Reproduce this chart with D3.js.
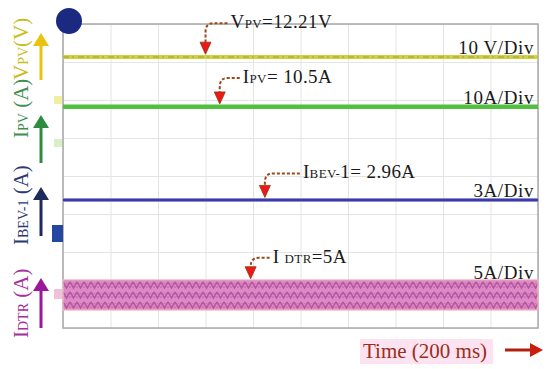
<!DOCTYPE html>
<head>
  <meta charset="utf-8">
  <title>Scope traces</title>
  <script src="https://d3js.org/d3.v7.min.js"></script>
</head>
<body style="margin:0;background:#fff">
  <script>
    // levels in scope divisions (0 = bottom of screen, 8 = top)
    var channels = ['VPV', 'IPV', 'IBEV-1', 'IDTR'];
    var levelDiv = [7.13, 5.82, 3.37, 0.87];
    var rippleDiv = [0.05, 0.05, 0.04, 0.4];
    var readings = ['12.21V', '10.5A', '2.96A', '5A'];
    var scaleLabels = ['10 V/Div', '10A/Div', '3A/Div', '5A/Div'];
    var markTime = [3.0, 3.3, 4.25, 3.95];
    var timeSpan = [0, 10];
    var gridX = [0, 1, 2, 3, 4, 5, 6, 7, 8, 9, 10];
    var gridY = [0, 1, 2, 3, 4, 5, 6, 7, 8];

    var width = 550, height = 369;
    var serif = "'Liberation Serif', 'DejaVu Serif', serif";

    var svg = d3.select('body').append('svg').attr('width', width).attr('height', height);

    var x = d3.scaleLinear().domain([0, 10]).range([63, 538]);
    var y = d3.scaleLinear().domain([0, 8]).range([328, 24]);

    var defs = svg.append('defs');
    var pat = defs.append('pattern').attr('id', 'ripple').attr('patternUnits', 'userSpaceOnUse')
      .attr('width', 7).attr('height', 10);
    pat.append('rect').attr('width', 7).attr('height', 10).attr('fill', '#df8ac6');
    pat.append('path').attr('d', 'M0,2 L3.5,8 L7,2').attr('fill', 'none')
      .attr('stroke', '#b0589c').attr('stroke-width', 1.6);
    pat.append('path').attr('d', 'M0,8 L3.5,3 L7,8').attr('fill', 'none')
      .attr('stroke', '#cc6cb4').attr('stroke-width', 1);

    // grid
    svg.append('g')
      .attr('transform', 'translate(0,' + y(0) + ')')
      .call(d3.axisBottom(x).tickValues(gridX).tickSize(-(y(0) - y(8))).tickFormat(''))
      .call(function(g) {
        g.select('.domain').remove();
        g.selectAll('line').attr('stroke', '#e4e4e4');
      });
    svg.append('g')
      .attr('transform', 'translate(' + x(0) + ',0)')
      .call(d3.axisLeft(y).tickValues(gridY).tickSize(-(x(10) - x(0))).tickFormat(''))
      .call(function(g) {
        g.select('.domain').remove();
        g.selectAll('line').attr('stroke', '#e4e4e4');
      });
    // frame
    svg.append('rect').attr('x', x(0)).attr('y', y(8))
      .attr('width', x(10) - x(0)).attr('height', y(0) - y(8))
      .attr('fill', 'none').attr('stroke', '#a8a8a8').attr('stroke-width', 1.5);

    var line = d3.line().x(function(d) { return x(d[0]); }).y(function(d) { return y(d[1]); });
    var area = d3.area().x(function(d) { return x(d[0]); })
      .y0(function(d) { return y(d[1] - d[2]); }).y1(function(d) { return y(d[1] + d[2]); });

    function pts(i) {
      return timeSpan.map(function(t) { return [t, levelDiv[i], rippleDiv[i]]; });
    }

    // VPV
    svg.append('path').attr('d', line(pts(0))).attr('stroke', '#d0d048').attr('stroke-width', 4).attr('fill', 'none');
    svg.append('path').attr('d', line(pts(0))).attr('stroke', '#a5a020').attr('stroke-width', 1)
      .attr('stroke-dasharray', '6,3,2,4').attr('fill', 'none');
    // IPV
    svg.append('path').attr('d', line(pts(1))).attr('stroke', '#52bf40').attr('stroke-width', 4.5).attr('fill', 'none');
    // IBEV-1
    svg.append('path').attr('d', line(pts(2))).attr('stroke', '#a8a8e0').attr('stroke-width', 4).attr('fill', 'none');
    svg.append('path').attr('d', line(pts(2))).attr('stroke', '#3b3ba6').attr('stroke-width', 2.5).attr('fill', 'none');
    // IDTR band
    svg.append('path').attr('d', area(pts(3))).attr('fill', 'url(#ripple)')
      .attr('stroke', '#f6c4bc').attr('stroke-width', 1);

    // channel ground markers
    svg.append('circle').attr('cx', 69).attr('cy', 21).attr('r', 13).attr('fill', '#1b2a80');
    svg.append('rect').attr('x', 54).attr('y', 96).attr('width', 8).attr('height', 8).attr('fill', '#eef0a0');
    svg.append('rect').attr('x', 54).attr('y', 139).attr('width', 8).attr('height', 8).attr('fill', '#d8f0c8');
    svg.append('rect').attr('x', 52).attr('y', 225).attr('width', 11).attr('height', 17).attr('fill', '#2448a0');
    svg.append('rect').attr('x', 54).attr('y', 289).attr('width', 8).attr('height', 10).attr('fill', '#f0c0dc');

    // right scale labels
    svg.selectAll('.scl').data(scaleLabels).enter().append('text')
      .attr('x', 534).attr('y', function(d, i) { return y(levelDiv[i] + rippleDiv[i]) - 1; })
      .attr('text-anchor', 'end').attr('font-family', serif).attr('font-size', 19)
      .attr('letter-spacing', 0.6).attr('fill', '#1a1a1a').text(function(d) { return d; });

    // annotations
    var subs = [['V', 'PV', '=' + readings[0]], ['I', 'PV', '= ' + readings[1]],
                ['I', 'BEV-', '1= ' + readings[2]], ['I ', 'DTR', '=' + readings[3]]];
    var textOff = [[25, -26], [23, -21], [38, -19], [22, -16]];
    markTime.forEach(function(t, i) {
      var tx = x(t), ty = y(levelDiv[i] + rippleDiv[i]) - 1;
      var lx = tx + textOff[i][0], ly = ty + textOff[i][1];
      var sy = ly - 5;
      svg.append('path')
        .attr('d', 'M' + (lx - 3) + ',' + sy + ' L' + (tx + 8) + ',' + sy + ' Q' + tx + ',' + sy + ' ' + tx + ',' + (sy + 9) + ' L' + tx + ',' + (ty - 10))
        .attr('fill', 'none').attr('stroke', '#9a4a1a').attr('stroke-width', 2).attr('stroke-dasharray', '3,2');
      svg.append('path')
        .attr('d', 'M' + (tx - 5.5) + ',' + (ty - 12) + ' L' + (tx + 5.5) + ',' + (ty - 12) + ' L' + tx + ',' + ty + 'Z')
        .attr('fill', '#ee1818').attr('stroke', '#8a3a10').attr('stroke-width', 0.8);
      var tt = svg.append('text').attr('x', lx).attr('y', ly).attr('font-family', serif)
        .attr('font-size', 19).attr('letter-spacing', 0.4).attr('fill', '#1a1a1a');
      tt.append('tspan').text(subs[i][0]);
      tt.append('tspan').attr('font-size', 13).text(subs[i][1]);
      tt.append('tspan').text(subs[i][2]);
    });

    // left rotated labels with arrows
    var leftLab = [
      { parts: ['V', 'PV', '(V)'], color: '#cbbd22', arrow: '#e8c410', y0: 80, a: [80, 33] },
      { parts: ['I', 'PV', ' (A)'], color: '#3f8f4f', arrow: '#2e8b40', y0: 138, a: [163, 115] },
      { parts: ['I', 'BEV-1', ' (A)'], color: '#2c3a72', arrow: '#1f2a5c', y0: 245, a: [236, 187] },
      { parts: ['I', 'DTR', ' (A)'], color: '#a4309c', arrow: '#9a189a', y0: 338, a: [328, 278] }
    ];
    leftLab.forEach(function(d) {
      var t = svg.append('text').attr('transform', 'translate(28,' + d.y0 + ') rotate(-90)')
        .attr('font-family', serif).attr('font-size', 21).attr('fill', d.color);
      t.append('tspan').text(d.parts[0]);
      t.append('tspan').attr('font-size', 14).text(d.parts[1]);
      t.append('tspan').text(d.parts[2]);
      svg.append('line').attr('x1', 41).attr('x2', 41).attr('y1', d.a[0]).attr('y2', d.a[1] + 10)
        .attr('stroke', d.arrow).attr('stroke-width', 3);
      svg.append('path').attr('d', 'M33,' + (d.a[1] + 13) + ' L49,' + (d.a[1] + 13) + ' L41,' + d.a[1] + 'Z')
        .attr('fill', d.arrow);
    });

    // time label
    svg.append('rect').attr('x', 360).attr('y', 339).attr('width', 133).attr('height', 25).attr('fill', '#fde3f1');
    svg.append('text').attr('x', 363).attr('y', 358).attr('font-family', serif).attr('font-size', 21)
      .attr('fill', '#9a2e18').text('Time (200 ms)');
    svg.append('line').attr('x1', 505).attr('x2', 532).attr('y1', 350).attr('y2', 350)
      .attr('stroke', '#b0200e').attr('stroke-width', 3);
    svg.append('path').attr('d', 'M530,343 L543,350 L530,357Z').attr('fill', '#c81e0c');
  </script>
</body>
